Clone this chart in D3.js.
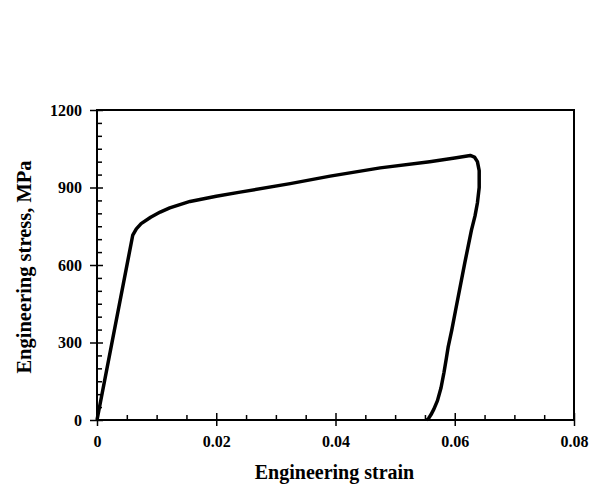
<!DOCTYPE html>
<html lang="en">
<head>
  <meta charset="UTF-8">
  <title>Stress-strain curve</title>
  <script src="https://d3js.org/d3.v7.min.js"></script>
  <style>
    body { margin: 0; background: #fff; }
    text { font-family: "Liberation Serif", "Times New Roman", serif; font-weight: bold; fill: #000; }
  </style>
</head>
<body>

  <script>
    ((window, document) => {
      "use strict";

      /**
       * -----------------------------------------------------------------------
       *  Data
       * -----------------------------------------------------------------------
       */
      const STRAIN = [
        0, 0.0060, 0.0066, 0.0074, 0.0090, 0.0106, 0.0122, 0.0139, 0.0156,
        0.0200, 0.0240, 0.0324, 0.0391, 0.0475, 0.0558, 0.0600, 0.0626, 0.0633,
        0.0638, 0.0641, 0.0641, 0.0638, 0.0634, 0.0628, 0.0617, 0.0601, 0.0595,
        0.0589, 0.0586, 0.0582, 0.0577, 0.0571, 0.0565, 0.0560, 0.0556, 0.0553,
      ];
      const STRESS = [
        0, 716, 740, 760, 785, 805, 821, 834, 846,
        866, 882, 915, 944, 976, 1000, 1014, 1024, 1018,
        1000, 965, 900, 840, 790, 735, 610, 420, 348,
        283, 240, 185, 125, 75, 42, 20, 6, 0,
      ];
      const X_TICKS = [0, 0.02, 0.04, 0.06, 0.08];
      const Y_TICKS = [0, 300, 600, 900, 1200];
      const X_LABEL = "Engineering strain";
      const Y_LABEL = "Engineering stress, MPa";


      /**
       * -----------------------------------------------------------------------
       *  Render
       * -----------------------------------------------------------------------
       */
      const WIDTH = 601, HEIGHT = 488;
      const LEFT = 97, RIGHT = 574, TOP = 110, BOTTOM = 420;

      let svg = d3.select("body").append("svg")
          .attr("width", WIDTH)
          .attr("height", HEIGHT);

      let x = d3.scaleLinear().domain([0, 0.08]).range([LEFT, RIGHT]);
      let y = d3.scaleLinear().domain([0, 1200]).range([BOTTOM, TOP]);

      let xMinor = d3.range(0, 0.0801, 0.005).filter(v => !X_TICKS.some(t => Math.abs(t - v) < 1e-6));
      let yMinor = d3.range(0, 1201, 50).filter(v => v % 300 !== 0);

      // x axis: labels + outer part of major ticks
      let gx = svg.append("g").attr("transform", `translate(0,${BOTTOM})`);
      gx.call(d3.axisBottom(x).tickValues(X_TICKS).tickSize(6).tickPadding(10)
          .tickFormat(d => d === 0 ? "0" : d3.format(".2f")(d)));
      gx.append("g").call(d3.axisBottom(x).tickValues(X_TICKS).tickSize(-7).tickFormat(""));
      gx.append("g").call(d3.axisBottom(x).tickValues(xMinor).tickSize(-5).tickFormat(""));

      // y axis
      let gy = svg.append("g").attr("transform", `translate(${LEFT},0)`);
      gy.call(d3.axisLeft(y).tickValues(Y_TICKS).tickSize(7).tickPadding(8).tickFormat(d3.format("d")));
      gy.append("g").call(d3.axisLeft(y).tickValues(Y_TICKS).tickSize(-6).tickFormat(""));
      gy.append("g").call(d3.axisLeft(y).tickValues(yMinor).tickSize(-5).tickFormat(""));

      svg.selectAll(".domain").remove();
      svg.selectAll(".tick line").attr("stroke", "#000").attr("stroke-width", 1.5);
      svg.selectAll(".tick text")
          .attr("font-size", 16)
          .attr("font-family", "'Liberation Serif', 'Times New Roman', serif")
          .attr("font-weight", "bold");

      // frame
      svg.append("rect")
          .attr("x", LEFT).attr("y", TOP)
          .attr("width", RIGHT - LEFT).attr("height", BOTTOM - TOP)
          .attr("fill", "none")
          .attr("stroke", "#000")
          .attr("stroke-width", 2);

      // curve
      let line = d3.line()
          .x(i => x(STRAIN[i]))
          .y(i => y(STRESS[i]));

      svg.append("path")
          .datum(d3.range(STRAIN.length))
          .attr("d", line)
          .attr("fill", "none")
          .attr("stroke", "#000")
          .attr("stroke-width", 3.5)
          .attr("stroke-linejoin", "round");

      // axis titles
      svg.append("text")
          .attr("x", (LEFT + RIGHT) / 2 - 1)
          .attr("y", 479)
          .attr("text-anchor", "middle")
          .attr("font-size", 20)
          .text(X_LABEL);

      svg.append("text")
          .attr("transform", `translate(31,${(TOP + BOTTOM) / 2 + 2}) rotate(-90)`)
          .attr("text-anchor", "middle")
          .attr("font-size", 20.5)
          .text(Y_LABEL);

    })(window, document);
  </script>

</body>
</html>
